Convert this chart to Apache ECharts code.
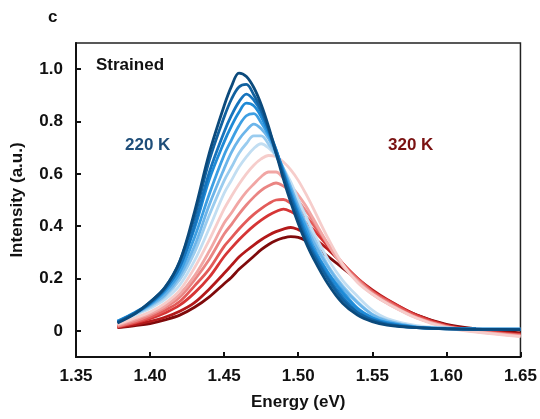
<!DOCTYPE html>
<html>
<head>
<meta charset="utf-8">
<script src="https://cdn.jsdelivr.net/npm/echarts@6/dist/echarts.min.js"></script>
<style>
html,body{margin:0;padding:0;background:#fff;}
#chart{width:540px;height:419px;}
</style>
</head>
<body>
<div id="chart"></div>
<script>
// Energy grid (eV)
const energy = [1.378, 1.39, 1.40, 1.41, 1.42, 1.43, 1.44, 1.45, 1.455, 1.46, 1.465, 1.47, 1.475, 1.48, 1.485, 1.49, 1.495, 1.50, 1.505, 1.51, 1.52, 1.53, 1.54, 1.55, 1.56, 1.58, 1.60, 1.62, 1.65];

// Tick values
const xTicks = [1.35, 1.40, 1.45, 1.50, 1.55, 1.60, 1.65];
const yTicks = [0, 0.2, 0.4, 0.6, 0.8, 1.0];

// Spectra, from 220 K (dark blue) to 320 K (dark red)
const s01 = [0.030, 0.066, 0.110, 0.165, 0.265, 0.455, 0.680, 0.860, 0.935, 0.985, 0.972, 0.930, 0.865, 0.780, 0.680, 0.580, 0.490, 0.410, 0.340, 0.280, 0.180, 0.105, 0.060, 0.035, 0.022, 0.012, 0.008, 0.006, 0.005];
const s02 = [0.032, 0.068, 0.110, 0.165, 0.265, 0.435, 0.652, 0.817, 0.886, 0.932, 0.942, 0.902, 0.846, 0.770, 0.680, 0.595, 0.506, 0.425, 0.350, 0.293, 0.198, 0.118, 0.069, 0.041, 0.025, 0.012, 0.008, 0.006, 0.005];
const s03 = [0.034, 0.068, 0.105, 0.158, 0.244, 0.403, 0.606, 0.760, 0.824, 0.875, 0.905, 0.882, 0.837, 0.769, 0.692, 0.602, 0.516, 0.439, 0.362, 0.303, 0.206, 0.129, 0.072, 0.043, 0.027, 0.012, 0.008, 0.006, 0.005];
const s04 = [0.036, 0.071, 0.106, 0.157, 0.244, 0.392, 0.579, 0.722, 0.783, 0.835, 0.870, 0.860, 0.818, 0.757, 0.692, 0.605, 0.522, 0.448, 0.378, 0.313, 0.222, 0.144, 0.084, 0.049, 0.030, 0.013, 0.009, 0.007, 0.006];
const s05 = [0.037, 0.069, 0.101, 0.149, 0.224, 0.357, 0.523, 0.672, 0.730, 0.784, 0.822, 0.830, 0.795, 0.747, 0.685, 0.614, 0.535, 0.461, 0.398, 0.324, 0.224, 0.152, 0.087, 0.051, 0.032, 0.013, 0.009, 0.007, 0.006];
const s06 = [0.036, 0.067, 0.098, 0.138, 0.209, 0.324, 0.482, 0.620, 0.683, 0.731, 0.766, 0.790, 0.772, 0.735, 0.679, 0.620, 0.549, 0.474, 0.407, 0.344, 0.245, 0.166, 0.107, 0.062, 0.037, 0.015, 0.010, 0.007, 0.006];
const s07 = [0.036, 0.065, 0.093, 0.131, 0.195, 0.300, 0.443, 0.574, 0.626, 0.679, 0.716, 0.745, 0.745, 0.713, 0.668, 0.611, 0.548, 0.480, 0.413, 0.360, 0.251, 0.173, 0.111, 0.064, 0.040, 0.015, 0.010, 0.007, 0.006];
const s08 = [0.034, 0.061, 0.086, 0.120, 0.175, 0.268, 0.393, 0.526, 0.576, 0.626, 0.665, 0.697, 0.715, 0.699, 0.669, 0.621, 0.568, 0.501, 0.440, 0.379, 0.275, 0.193, 0.132, 0.079, 0.047, 0.020, 0.011, 0.007, 0.005];
const s09 = [0.025, 0.050, 0.072, 0.105, 0.155, 0.241, 0.348, 0.466, 0.515, 0.560, 0.600, 0.633, 0.657, 0.670, 0.665, 0.645, 0.615, 0.575, 0.525, 0.470, 0.355, 0.255, 0.185, 0.140, 0.105, 0.048, 0.012, -0.005, -0.022];
const s10 = [0.022, 0.045, 0.066, 0.095, 0.140, 0.210, 0.305, 0.412, 0.451, 0.494, 0.531, 0.561, 0.589, 0.607, 0.607, 0.583, 0.555, 0.519, 0.479, 0.430, 0.332, 0.247, 0.190, 0.140, 0.105, 0.050, 0.015, -0.003, -0.020];
const s11 = [0.018, 0.038, 0.060, 0.088, 0.128, 0.195, 0.274, 0.370, 0.407, 0.446, 0.481, 0.511, 0.537, 0.554, 0.565, 0.553, 0.531, 0.497, 0.460, 0.421, 0.331, 0.251, 0.195, 0.145, 0.110, 0.050, 0.016, -0.002, -0.018];
const s12 = [0.016, 0.033, 0.052, 0.078, 0.112, 0.172, 0.237, 0.323, 0.356, 0.389, 0.419, 0.445, 0.467, 0.486, 0.500, 0.502, 0.487, 0.465, 0.437, 0.407, 0.331, 0.258, 0.200, 0.150, 0.115, 0.055, 0.018, 0.000, -0.016];
const s13 = [0.015, 0.030, 0.046, 0.068, 0.098, 0.145, 0.205, 0.284, 0.317, 0.348, 0.376, 0.401, 0.423, 0.442, 0.456, 0.465, 0.456, 0.439, 0.414, 0.388, 0.323, 0.258, 0.200, 0.152, 0.118, 0.058, 0.020, 0.002, -0.015];
const s14 = [0.013, 0.024, 0.036, 0.052, 0.075, 0.108, 0.160, 0.220, 0.251, 0.282, 0.306, 0.328, 0.348, 0.365, 0.379, 0.389, 0.395, 0.387, 0.374, 0.356, 0.312, 0.255, 0.201, 0.156, 0.120, 0.060, 0.022, 0.004, -0.012];
const s15 = [0.012, 0.020, 0.028, 0.042, 0.060, 0.090, 0.130, 0.180, 0.205, 0.235, 0.260, 0.285, 0.310, 0.330, 0.345, 0.355, 0.360, 0.357, 0.345, 0.325, 0.285, 0.240, 0.195, 0.150, 0.115, 0.060, 0.025, 0.008, -0.008];

const spectra = [s01, s02, s03, s04, s05, s06, s07, s08, s09, s10, s11, s12, s13, s14, s15];
const colors = ['#0b4a7c', '#11619f', '#1674bd', '#1e8ad6', '#3d9fe3', '#6cb5ea', '#9accef', '#c2def2',
                '#f6cdcb', '#f1a6a4', '#ea8583', '#e35b59', '#d63535', '#b3191a', '#7f0a0b'];

const font = '"Liberation Sans", Arial, sans-serif';
const chart = echarts.init(document.getElementById('chart'), null, {renderer: 'canvas'});

const series = [];
for (let i = spectra.length - 1; i >= 0; i--) {
  series.push({
    type: 'line',
    data: energy.map((e, k) => [e, spectra[i][k]]),
    smooth: 0.35,
    showSymbol: false,
    lineStyle: {color: colors[i], width: 2.8},
    z: 2
  });
}

chart.setOption({
  animation: false,
  backgroundColor: '#fff',
  grid: {left: 76, right: 19, top: 43, bottom: 62, show: true, borderColor: '#222', borderWidth: 1.5, backgroundColor: 'transparent'},
  xAxis: {
    type: 'value', min: 1.35, max: 1.65,
    name: 'Energy (eV)', nameLocation: 'middle', nameGap: 37,
    nameTextStyle: {fontFamily: font, fontWeight: 'bold', fontSize: 17, color: '#111'},
    axisLine: {show: true, onZero: false, lineStyle: {color: '#111', width: 2}},
    axisTick: {show: true, inside: true, length: 5, customValues: xTicks, lineStyle: {color: '#111', width: 2}},
    axisLabel: {customValues: xTicks, margin: 11, fontFamily: font, fontWeight: 'bold', fontSize: 17, color: '#111',
                formatter: v => Number(v).toFixed(2)},
    splitLine: {show: false}
  },
  yAxis: {
    type: 'value', min: -0.1, max: 1.1,
    name: 'Intensity (a.u.)', nameLocation: 'middle', nameGap: 50, nameRotate: 90,
    nameTextStyle: {fontFamily: font, fontWeight: 'bold', fontSize: 17, color: '#111'},
    axisLine: {show: true, onZero: false, lineStyle: {color: '#111', width: 2}},
    axisTick: {show: true, inside: true, length: 5, customValues: yTicks, lineStyle: {color: '#111', width: 2}},
    axisLabel: {customValues: yTicks, margin: 13, fontFamily: font, fontWeight: 'bold', fontSize: 17, color: '#111',
                formatter: v => (Math.abs(v) < 1e-9 ? '0' : Number(v).toFixed(1))},
    splitLine: {show: false}
  },
  graphic: [
    {type: 'text', left: 48, top: 9, style: {text: 'c', font: 'bold 17px ' + font, fill: '#111'}},
    {type: 'text', left: 96, top: 57, style: {text: 'Strained', font: 'bold 17px ' + font, fill: '#111'}},
    {type: 'text', left: 125, top: 137, style: {text: '220 K', font: 'bold 17px ' + font, fill: '#1f4e79'}},
    {type: 'text', left: 388, top: 137, style: {text: '320 K', font: 'bold 17px ' + font, fill: '#7a1212'}}
  ],
  series: series
});
</script>
</body>
</html>
